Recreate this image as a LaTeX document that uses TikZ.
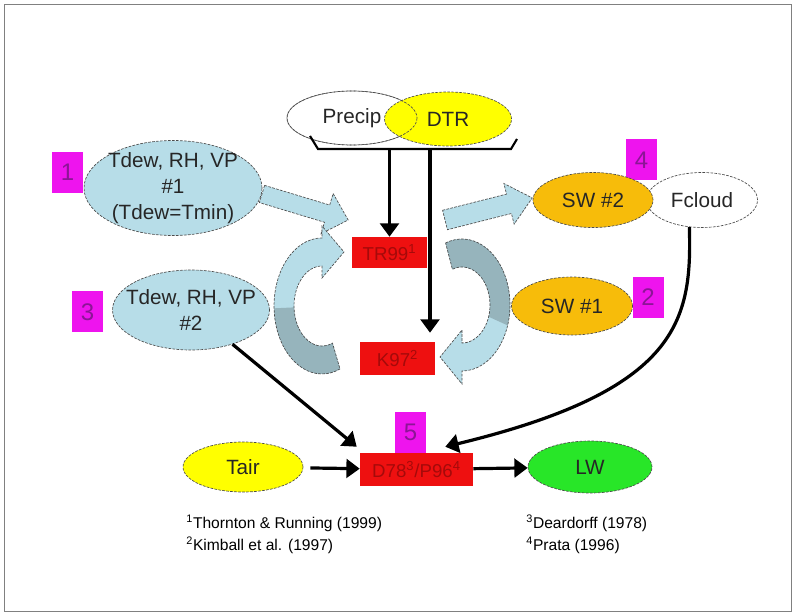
\documentclass[tikz,border=0pt]{standalone}
\usepackage{fontspec}
\setmainfont{Liberation Sans}
\usetikzlibrary{shapes.geometric,arrows.meta}

\definecolor{boxred}{RGB}{238,16,16}
\definecolor{textred}{RGB}{165,10,10}
\definecolor{numpink}{RGB}{238,20,238}
\definecolor{numtext}{RGB}{140,20,150}
\definecolor{ovalblue}{RGB}{183,221,232}
\definecolor{backblue}{RGB}{150,180,188}
\definecolor{swgold}{RGB}{247,188,10}
\definecolor{lwgreen}{RGB}{40,230,40}
\definecolor{dtryellow}{RGB}{255,255,0}

\newcommand{\pxu}{0.75pt}

\tikzset{
  lbl/.style={font=\fontsize{15.5}{19.5}\selectfont,align=center,inner sep=0pt,text=black!85},
  oval/.style={ellipse,draw=black!70,dash pattern=on 2pt off 1pt,line width=0.5pt,lbl},
  redbox/.style={rectangle,fill=boxred,lbl,font=\fontsize{14}{16}\selectfont,text=textred},
  numbox/.style={rectangle,fill=numpink,text=numtext,inner sep=0pt,minimum width=31*\pxu,minimum height=41*\pxu,font=\fontsize{18}{18}\selectfont},
  flow/.style={-{Triangle[length=10pt,width=14pt]},line width=2.4pt},
  blockarrow/.style={draw=black!70,dash pattern=on 2pt off 1pt,line width=0.5pt},
  foot/.style={font=\fontsize{11.7}{16.5}\selectfont,align=left,inner sep=0pt,anchor=west},
  sz/.style 2 args={minimum width=#1*\pxu,minimum height=#2*\pxu},
}

\begin{document}
\begin{tikzpicture}[x=0.75pt,y=-0.75pt]
\useasboundingbox (0,0) rectangle (796,616);
\draw[gray,line width=0.6pt] (4,4) rectangle (791,611);

% inputs at the top
\node[oval,fill=white,sz={130}{54}] (precip) at (352,118) {Precip};
\node[oval,fill=dtryellow,sz={127}{54}] (dtr) at (448,119) {DTR};
\draw[black!70,dash pattern=on 2pt off 1pt,line width=0.5pt] (precip) ellipse[x radius=65,y radius=27];
\coordinate (brl) at (310,136);
\coordinate (brbl) at (318,149);
\coordinate (brbr) at (511,149);
\coordinate (brr) at (517,139);
\draw[line width=1.6pt] (brl) -- (brbl) -- (brbr) -- (brr);

% humidity ovals
\node[numbox] (n1) at (67.5,172.5) {1};
\node[oval,fill=ovalblue,inner sep=-9pt,sz={178}{95}] (tdew1) at (173,188) {Tdew, RH, VP\\\#1\\(Tdew=Tmin)};
\node[numbox] (n3) at (87.5,312) {3};
\node[oval,fill=ovalblue,inner sep=-9pt,sz={157}{80}] (tdew2) at (191,310) {Tdew, RH, VP\\\#2};

% shortwave ovals
\node[numbox] (n4) at (641.5,160) {4};
\node[oval,fill=white,sz={111}{55}] (fcloud) at (702,200) {Fcloud};
\node[oval,fill=swgold,sz={120}{55}] (sw2) at (593,200) {SW \#2};
\node[oval,fill=swgold,sz={121}{58}] (sw1) at (572,306) {SW \#1};
\node[numbox] (n2) at (648,297.5) {2};

% block arrows
\begin{scope}[shift={(262,194)},rotate=-16.8]
  \draw[blockarrow,fill=ovalblue] (0,-9) -- (68,-9) -- (68,-21) -- (90,0) -- (68,21) -- (68,9) -- (0,9) -- cycle;
\end{scope}
\begin{scope}[shift={(445,220)},rotate=14.2]
  \draw[blockarrow,fill=ovalblue] (0,-10) -- (66,-10) -- (66,-21) -- (90,0) -- (66,21) -- (66,10) -- (0,10) -- cycle;
\end{scope}

% curved arrows between TR99 and K97
\fill[ovalblue] (340,369) arc[start angle=68,end angle=270,x radius=48,y radius=68]
  -- (322,226) -- (344,252) -- (322,278) -- (322,266)
  arc[start angle=270,end angle=68,x radius=28,y radius=40] -- cycle;
\fill[backblue] (340,369) arc[start angle=68,end angle=178,x radius=48,y radius=68]
  -- ([shift={(178:28 and 40)}]322,306)
  arc[start angle=178,end angle=68,x radius=28,y radius=40] -- cycle;
\draw[blockarrow] (340,369) arc[start angle=68,end angle=270,x radius=48,y radius=68]
  -- (322,226) -- (344,252) -- (322,278) -- (322,266)
  arc[start angle=270,end angle=68,x radius=28,y radius=40] -- cycle;

\fill[ovalblue] ([shift={(250:48 and 66)}]462,305) arc[start angle=250,end angle=450,x radius=48,y radius=66]
  -- (462,384) -- (440,357) -- (462,330) -- (462,343)
  arc[start angle=450,end angle=250,x radius=28,y radius=38] -- cycle;
\fill[backblue] ([shift={(250:48 and 66)}]462,305) arc[start angle=250,end angle=378,x radius=48,y radius=66]
  -- ([shift={(378:28 and 38)}]462,305)
  arc[start angle=378,end angle=250,x radius=28,y radius=38] -- cycle;
\draw[blockarrow] ([shift={(250:48 and 66)}]462,305) arc[start angle=250,end angle=450,x radius=48,y radius=66]
  -- (462,384) -- (440,357) -- (462,330) -- (462,343)
  arc[start angle=450,end angle=250,x radius=28,y radius=38] -- cycle;

% model boxes
\node[redbox,sz={75}{31}] (tr99) at (389.5,252.5) {TR99\textsuperscript{1}};
\node[redbox,sz={75}{33}] (k97) at (397.5,358.5) {K97\textsuperscript{2}};
\node[numbox] (n5) at (410.5,432.5) {5};
\node[redbox,sz={113}{33}] (d78) at (416.5,469.5) {D78\textsuperscript{3}/P96\textsuperscript{4}};
\node[oval,fill=dtryellow,sz={120}{50}] (tair) at (243,467) {Tair};
\node[oval,fill=lwgreen,sz={124}{52}] (lw) at (590,467) {LW};

% black arrows
\coordinate (drop1) at (389.5,149);
\coordinate (drop2) at (430,149);
\draw[flow] (drop1) -- (tr99.north);
\draw[flow,shorten >=9*\pxu] (drop2) -- (drop2 |- k97.north);
\draw[flow] (tdew2) -- ([xshift=-3*\pxu,yshift=6*\pxu]d78.north west);
\draw[flow] (fcloud.245) .. controls (692,320) and (680,390) .. ([xshift=-28*\pxu,yshift=6*\pxu]d78.north east);
\draw[flow,shorten <=7*\pxu] (tair) -- (d78);
\draw[flow] (d78) -- (lw);

% references
\node[foot] (refl) at (186,534) {\textsuperscript{1}Thornton \& Running (1999)\\\textsuperscript{2}Kimball et al. (1997)};
\node[foot] (refr) at (526,534) {\textsuperscript{3}Deardorff (1978)\\\textsuperscript{4}Prata (1996)};
\end{tikzpicture}
\end{document}
